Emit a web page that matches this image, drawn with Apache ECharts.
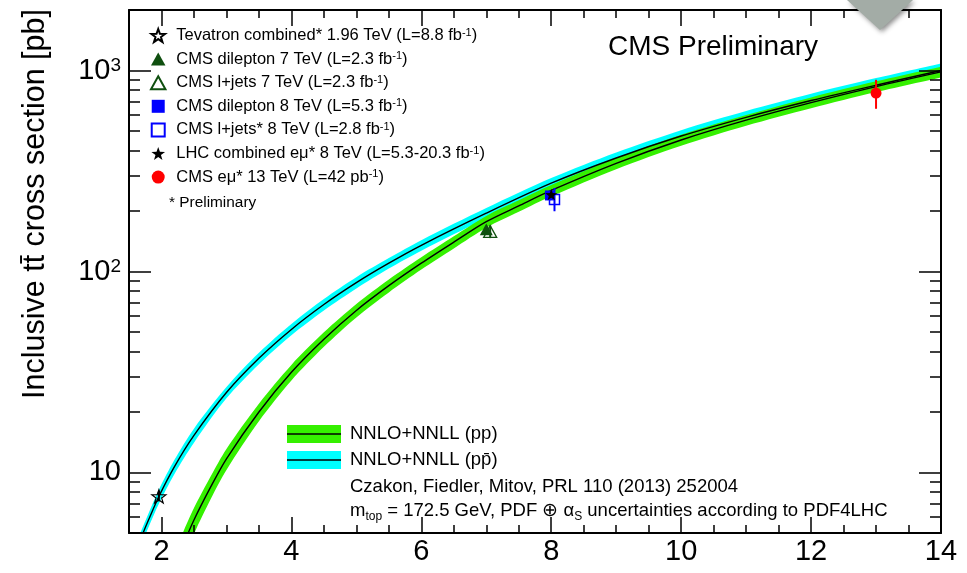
<!DOCTYPE html>
<html>
<head>
<meta charset="utf-8">
<script src="https://cdn.jsdelivr.net/npm/echarts@6/dist/echarts.min.js"></script>
<style>
  html, body { margin: 0; background: #fff; }
  #chart { width: 967px; height: 573px; }
</style>
</head>
<body>
<div id="chart"></div>
<script>
// theory curves, NNLO+NNLL (values in pb)
const sqrtSpp = [2.3, 2.5, 2.76, 3, 3.5, 4, 4.5, 5, 5.5, 6, 6.5, 7, 7.5, 8, 9, 10, 11, 12, 13, 14];
const ppCentral = [4.1, 5.8, 8.5, 11.7, 20, 31.5, 46, 64, 85, 110, 140, 177, 212, 253, 345, 451, 566, 692, 832, 984];
const ppLow = [3.44, 4.95, 7.4, 10.3, 18.0, 28.7, 42.2, 59.1, 78.7, 102.2, 130.2, 165, 198, 236.5, 323, 422.5, 531, 649, 781, 924];
const ppHigh = [4.76, 6.65, 9.6, 13.1, 22.0, 34.3, 49.8, 68.9, 91.3, 117.8, 149.8, 189, 226, 269.5, 367, 479.5, 601, 735, 883, 1044];

const sqrtSppbar = [1.6, 1.7, 1.8, 1.96, 2.2, 2.5, 3, 3.5, 4, 4.5, 5, 5.5, 6, 7, 8, 9, 10, 11, 12, 13, 14];
const ppbarCentral = [4.0, 4.85, 5.8, 7.6, 10.7, 15.3, 25, 37, 51.5, 68.5, 88, 110, 135, 195, 275, 367, 472, 585, 709, 845, 1000];
const ppbarLow = [3.68, 4.46, 5.34, 6.99, 9.84, 14.08, 23.4, 34.6, 48.2, 64.0, 82.3, 103.4, 126.9, 183.3, 258.5, 343.1, 439, 541, 652, 773, 915];
const ppbarHigh = [4.32, 5.24, 6.26, 8.21, 11.56, 16.52, 26.6, 39.4, 54.8, 73.0, 93.7, 116.6, 143.1, 206.7, 291.5, 390.9, 505, 629, 766, 917, 1085];

// measurements
const pointNames = [
  'Tevatron combined* 1.96 TeV',
  'CMS dilepton 7 TeV',
  'CMS l+jets 7 TeV',
  'CMS dilepton 8 TeV',
  'CMS l+jets* 8 TeV',
  'LHC combined emu* 8 TeV',
  'CMS emu* 13 TeV'
];
const pointLabels = [
  'Tevatron combined* 1.96 TeV (L=8.8 fb{sup|-1})',
  'CMS dilepton 7 TeV (L=2.3 fb{sup|-1})',
  'CMS l+jets 7 TeV (L=2.3 fb{sup|-1})',
  'CMS dilepton 8 TeV (L=5.3 fb{sup|-1})',
  'CMS l+jets* 8 TeV (L=2.8 fb{sup|-1})',
  'LHC combined eμ* 8 TeV (L=5.3-20.3 fb{sup|-1})',
  'CMS eμ* 13 TeV (L=42 pb{sup|-1})'
];
const pointX = [1.96, 7.0, 7.06, 7.98, 8.05, 8.0, 13.0];
const pointY = [7.6, 161.9, 158.1, 239, 228.4, 241.5, 772];
const pointErrDown = [0.41, 6.9, 11.5, 12.7, 29, 8.5, 127];
const pointErrUp = [0.41, 6.9, 11.5, 12.7, 32, 8.5, 127];

// axis ticks
const xMajorTicks = [2, 4, 6, 8, 10, 12, 14];
const xMinorTicks = [2.5, 3, 3.5, 4.5, 5, 5.5, 6.5, 7, 7.5, 8.5, 9, 9.5, 10.5, 11, 11.5, 12.5, 13, 13.5];
const yMajorTicks = [10, 100, 1000];
const yMinorTicks = [5, 6, 7, 8, 9, 20, 30, 40, 50, 60, 70, 80, 90, 200, 300, 400, 500, 600, 700, 800, 900];

const FONT = '"Liberation Sans", Arial, Helvetica, sans-serif';
const GREEN = '#35f000';
const CYAN = '#00ffff';
const DARKGREEN = '#0f4f0f';
const STAR = 'path://M0,-10L2.35,-3.24L9.51,-3.09L3.8,1.24L5.88,8.09L0,4L-5.88,8.09L-3.8,1.24L-9.51,-3.09L-2.35,-3.24Z';
const TRIANGLE = 'path://M0,-10L10,8L-10,8Z';
const SQUARE = 'path://M0,0L10,0L10,10L0,10Z';

const markerStyle = [
  { symbol: STAR, size: 14, color: 'rgba(0,0,0,0)', border: '#000', bw: 1.2 },
  { symbol: TRIANGLE, size: 13, color: DARKGREEN },
  { symbol: TRIANGLE, size: 13, color: 'rgba(0,0,0,0)', border: DARKGREEN, bw: 1.3 },
  { symbol: SQUARE, size: 10, color: '#0000ff' },
  { symbol: SQUARE, size: 10, color: 'rgba(0,0,0,0)', border: '#0000ff', bw: 1.5 },
  { symbol: STAR, size: 12, color: '#000' },
  { symbol: 'circle', size: 11, color: '#ff0000' }
];
const errColor = ['#000', DARKGREEN, DARKGREEN, '#0000ff', '#0000ff', '#000', '#ff0000'];

const pairs = (xs, ys) => xs.map((x, i) => [x, ys[i]]);

const myChart = echarts.init(document.querySelector('#chart'));

const tickLine = { color: '#000', width: 1.5 };
const frameLine = { show: true, onZero: false, lineStyle: { color: '#000', width: 2 } };

const makeX = (position, ticks, len, withLine, withLabel) => ({
  type: 'value', position, min: 1.5, max: 14, z: 10,
  splitLine: { show: false },
  axisLine: withLine ? frameLine : { show: false, onZero: false },
  axisTick: { show: true, inside: true, length: len, customValues: ticks, lineStyle: tickLine },
  axisLabel: withLabel
    ? { show: true, customValues: ticks, fontSize: 29, fontFamily: FONT, color: '#000', margin: 4 }
    : { show: false }
});
const makeY = (position, ticks, len, withLine, withLabel) => ({
  type: 'log', logBase: 10, position, min: 5, max: 2000, z: 10,
  splitLine: { show: false },
  axisLine: withLine ? frameLine : { show: false, onZero: false },
  axisTick: { show: true, inside: true, length: len, customValues: ticks, lineStyle: tickLine },
  axisLabel: withLabel
    ? {
        show: true, customValues: ticks, fontSize: 29, fontFamily: FONT, color: '#000', margin: 8,
        formatter: v => (v === 10 ? '10' : v === 100 ? '10{sup|2}' : '10{sup|3}'),
        rich: { sup: { fontSize: 19, fontFamily: FONT, color: '#000', verticalAlign: 'top' } }
      }
    : { show: false }
});

// band edge: the upper edge is filled down to the axis in the band colour,
// the lower edge is filled in white, leaving the band between them
const edge = (xs, ys, fill) => ({
  type: 'line', data: pairs(xs, ys), symbol: 'none', smooth: 0.3, silent: true, z: 2,
  lineStyle: { width: 0 },
  areaStyle: { color: fill, opacity: 1, origin: 'start' }
});

const series = [
  edge(sqrtSppbar, ppbarHigh, CYAN),
  edge(sqrtSppbar, ppbarLow, '#fff'),
  edge(sqrtSpp, ppHigh, GREEN),
  edge(sqrtSpp, ppLow, '#fff'),
  { name: 'ppbar-central', type: 'line', data: pairs(sqrtSppbar, ppbarCentral), smooth: 0.3,
    symbol: 'none', lineStyle: { color: '#000', width: 1.4 }, z: 3, silent: true },
  { name: 'pp-central', type: 'line', data: pairs(sqrtSpp, ppCentral), smooth: 0.3,
    symbol: 'none', lineStyle: { color: '#000', width: 1.4 }, z: 3, silent: true },
  {
    type: 'custom', z: 4, silent: true,
    data: pointX.map((x, i) => [x, pointY[i] - pointErrDown[i], pointY[i] + pointErrUp[i], i]),
    encode: { x: 0, y: [1, 2] },
    renderItem(params, api) {
      const p1 = api.coord([api.value(0), api.value(1)]);
      const p2 = api.coord([api.value(0), api.value(2)]);
      return {
        type: 'line',
        shape: { x1: p1[0], y1: p1[1], x2: p2[0], y2: p2[1] },
        style: { stroke: errColor[api.value(3)], lineWidth: 2 }
      };
    }
  }
];

pointNames.forEach((name, i) => {
  const m = markerStyle[i];
  series.push({
    name, type: 'scatter', z: 5,
    data: [[pointX[i], pointY[i]]],
    symbol: m.symbol, symbolSize: m.size, symbolKeepAspect: true,
    itemStyle: { color: m.color, borderColor: m.border || m.color, borderWidth: m.bw || 0, opacity: 1 }
  });
});

const option = {
  animation: false,
  grid: { left: 129, top: 10, right: 26, bottom: 40, containLabel: false, outerBoundsMode: 'none' },
  xAxis: [
    makeX('bottom', xMajorTicks, 16, true, true),
    makeX('bottom', xMinorTicks, 8, false, false),
    makeX('top', xMajorTicks, 16, true, false),
    makeX('top', xMinorTicks, 8, false, false)
  ],
  yAxis: [
    makeY('left', yMajorTicks, 22, true, true),
    makeY('left', yMinorTicks, 11, false, false),
    makeY('right', yMajorTicks, 22, true, false),
    makeY('right', yMinorTicks, 11, false, false)
  ],
  legend: {
    data: pointNames,
    orient: 'vertical',
    left: 145,
    top: 22,
    itemWidth: 26,
    itemHeight: 13,
    itemGap: 6.6,
    symbolKeepAspect: true,
    selectedMode: false,
    formatter: name => pointLabels[pointNames.indexOf(name)],
    textStyle: {
      fontSize: 16.5, fontFamily: FONT, color: '#000', lineHeight: 17,
      rich: { sup: { fontSize: 11, fontFamily: FONT, color: '#000', verticalAlign: 'top' } }
    }
  },
  series,
  graphic: [
    {
      type: 'text', x: 36, y: 204, rotation: Math.PI / 2, z: 20,
      style: { text: 'Inclusive tt\u0304 cross section [pb]', fontSize: 30.5, fontFamily: FONT, fill: '#000', align: 'center', verticalAlign: 'middle' }
    },
    {
      type: 'text', x: 608, y: 47, z: 20,
      style: { text: 'CMS Preliminary', fontSize: 28, fontFamily: FONT, fill: '#000', verticalAlign: 'middle' }
    },
    {
      type: 'text', x: 169, y: 203, z: 20,
      style: { text: '* Preliminary', fontSize: 15.4, fontFamily: FONT, fill: '#000', verticalAlign: 'middle' }
    },
    { type: 'rect', shape: { x: 287, y: 425, width: 54, height: 18 }, style: { fill: GREEN }, z: 20 },
    { type: 'line', shape: { x1: 287, y1: 434, x2: 341, y2: 434 }, style: { stroke: '#000', lineWidth: 1.5 }, z: 21 },
    { type: 'rect', shape: { x: 287, y: 451, width: 54, height: 18 }, style: { fill: CYAN }, z: 20 },
    { type: 'line', shape: { x1: 287, y1: 460, x2: 341, y2: 460 }, style: { stroke: '#000', lineWidth: 1.5 }, z: 21 },
    {
      type: 'text', x: 350, y: 434, z: 20,
      style: { text: 'NNLO+NNLL (pp)', fontSize: 18.5, fontFamily: FONT, fill: '#000', verticalAlign: 'middle' }
    },
    {
      type: 'text', x: 350, y: 460, z: 20,
      style: { text: 'NNLO+NNLL (pp\u0304)', fontSize: 18.5, fontFamily: FONT, fill: '#000', verticalAlign: 'middle' }
    },
    {
      type: 'text', x: 350, y: 487, z: 20,
      style: { text: 'Czakon, Fiedler, Mitov, PRL 110 (2013) 252004', fontSize: 18.5, fontFamily: FONT, fill: '#000', verticalAlign: 'middle' }
    },
    {
      type: 'text', x: 350, y: 511, z: 20,
      style: {
        text: 'm{sub|top} = 172.5 GeV, PDF \u2295 \u03b1{sub|S} uncertainties according to PDF4LHC',
        fontSize: 18.5, fontFamily: FONT, fill: '#000', verticalAlign: 'middle', lineHeight: 24,
        rich: { sub: { fontSize: 12, fontFamily: FONT, fill: '#000', verticalAlign: 'bottom' } }
      }
    },
    {
      type: 'polygon', z: 100,
      shape: { points: [[847, 0], [913, 0], [880, 30]] },
      style: { fill: '#a3aca6', shadowBlur: 5, shadowColor: 'rgba(0,0,0,0.45)', shadowOffsetX: 2, shadowOffsetY: 2 }
    }
  ]
};

myChart.setOption(option);
</script>
</body>
</html>
